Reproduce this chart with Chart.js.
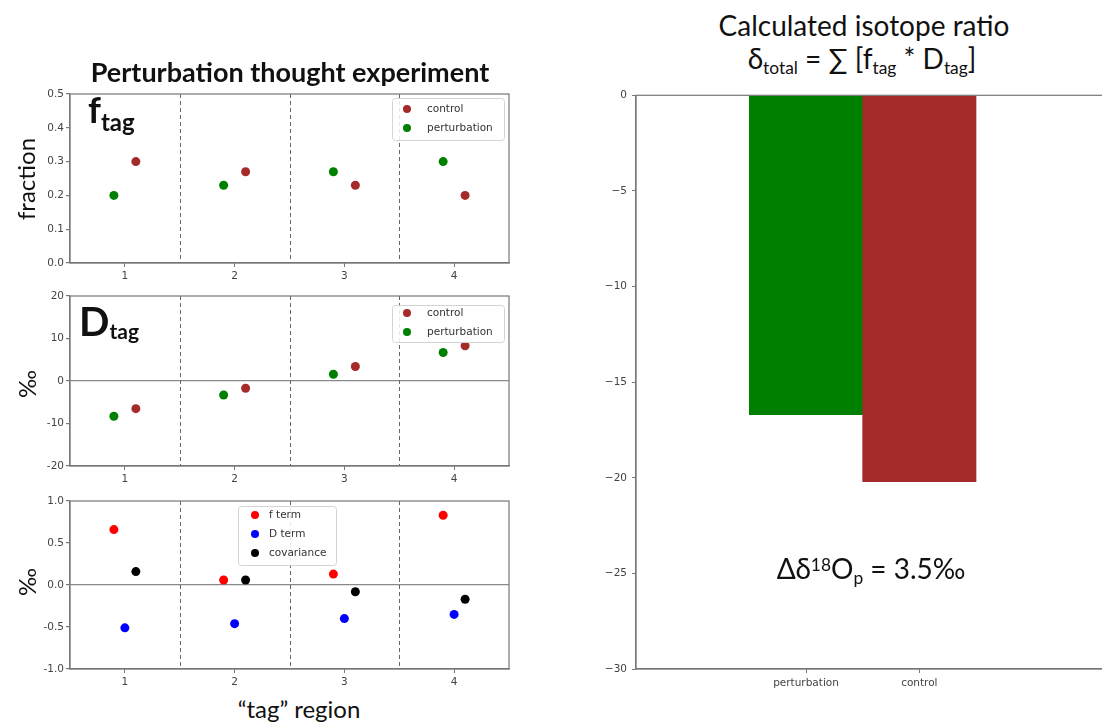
<!DOCTYPE html>
<html>
<head>
<meta charset="utf-8">
<script src="https://cdn.jsdelivr.net/npm/chart.js@4.4.1/dist/chart.umd.min.js"></script>
<style>
  html, body { margin: 0; padding: 0; background: #fff; }
  body { width: 1102px; height: 723px; position: relative; overflow: hidden; font-family: Lato, "Open Sans", sans-serif; color: #111; }
  canvas.plot { position: absolute; filter: blur(0.5px); }
  .lbl { position: absolute; white-space: nowrap; transform: translate(-50%, -50%); line-height: 1; }
  .rot { transform: translate(-50%, -50%) rotate(-90deg); }
  .tag { position: absolute; white-space: nowrap; line-height: 1; font-weight: 700; }
  .sub { font-size: 0.62em; position: relative; top: 0.3em; }
  .sup { font-size: 0.62em; position: relative; top: -0.45em; }
</style>
</head>
<body>

<canvas id="fPanel" class="plot" width="520" height="200" style="left:0; top:84px"></canvas>
<canvas id="dPanel" class="plot" width="520" height="200" style="left:0; top:286px"></canvas>
<canvas id="termPanel" class="plot" width="520" height="200" style="left:0; top:491px"></canvas>
<canvas id="totalPanel" class="plot" width="560" height="615" style="left:560px; top:84px"></canvas>

<div class="lbl" style="left:290px; top:71px; font-weight:700; font-size:27px">Perturbation thought experiment</div>
<div class="lbl rot" style="left:26px; top:179px; font-size:24px">fraction</div>
<div class="lbl rot" style="left:27px; top:384px; font-size:24px">‰</div>
<div class="lbl rot" style="left:27px; top:582px; font-size:24px">‰</div>
<div class="lbl" style="left:299px; top:709px; font-size:24px">“tag” region</div>
<div class="tag" style="left:88px; top:91px; font-size:36px">f<span style="font-size:24px; position:relative; top:8px">tag</span></div>
<div class="tag" style="left:79px; top:301px; font-size:40px">D<span style="font-size:21px; position:relative; top:3px">tag</span></div>

<div class="lbl" style="left:864px; top:25px; font-size:28px">Calculated isotope ratio</div>
<div class="lbl" style="left:862px; top:58px; font-size:28px">δ<span class="sub">total</span> = ∑ [f<span class="sub">tag</span> * D<span class="sub">tag</span>]</div>
<div class="lbl" style="left:871px; top:568px; font-size:28px">Δδ<span class="sup">18</span>O<span class="sub">p</span> = 3.5‰</div>

<script>
const regions = [1, 2, 3, 4];
const dividers = [1.5, 2.5, 3.5];

// f_tag: fraction of each tag region
const fCtrlX = [1.1, 2.1, 3.1, 4.1];
const fCtrl = [0.30, 0.27, 0.23, 0.20];
const fPertX = [0.9, 1.9, 2.9, 3.9];
const fPert = [0.20, 0.23, 0.27, 0.30];
const fTicks = [0, 0.1, 0.2, 0.3, 0.4, 0.5];

// D_tag: isotope value of each tag region
const dCtrlX = [1.1, 2.1, 3.1, 4.1];
const dCtrl = [-6.5, -1.7, 3.4, 8.3];
const dPertX = [0.9, 1.9, 2.9, 3.9];
const dPert = [-8.3, -3.3, 1.6, 6.7];
const dTicks = [-20, -10, 0, 10, 20];

// decomposition of the change
const fTermX = [0.9, 1.9, 2.9, 3.9];
const fTerm = [0.66, 0.06, 0.13, 0.83];
const dTermX = [1, 2, 3, 4];
const dTerm = [-0.51, -0.46, -0.40, -0.35];
const covX = [1.1, 2.1, 3.1, 4.1];
const cov = [0.16, 0.06, -0.08, -0.17];
const termTicks = [-1, -0.5, 0, 0.5, 1];

// total isotope ratio
const barLabels = ['perturbation', 'control'];
const barValues = [-16.7, -20.2];
const totalTicks = [-30, -25, -20, -15, -10, -5, 0];

const tickFont = { family: '"DejaVu Sans"', size: 10.5 };
const tickColor = '#444';
const axisColor = '#777';

const pts = (xs, ys) => xs.map((x, i) => ({ x, y: ys[i] }));

// box round the plot area
const framePlugin = {
  id: 'frame',
  afterDatasetsDraw(chart) {
    const { ctx, chartArea: a } = chart;
    ctx.save();
    ctx.strokeStyle = axisColor;
    ctx.lineWidth = 1.2;
    ctx.strokeRect(a.left, a.top, a.right - a.left, a.bottom - a.top);
    ctx.restore();
  }
};

// dashed lines between tag regions
const dividerPlugin = {
  id: 'dividers',
  beforeDatasetsDraw(chart) {
    const { ctx, chartArea: a, scales: { x } } = chart;
    ctx.save();
    ctx.strokeStyle = '#666';
    ctx.lineWidth = 1;
    ctx.setLineDash([4, 3]);
    dividers.forEach((v) => {
      const px = Math.round(x.getPixelForValue(v)) + 0.5;
      ctx.beginPath();
      ctx.moveTo(px, a.top);
      ctx.lineTo(px, a.bottom);
      ctx.stroke();
    });
    ctx.restore();
  }
};

// legend drawn inside the plot area, with a frame
const boxLegend = {
  id: 'boxLegend',
  afterDraw(chart, args, opts) {
    const { ctx, chartArea: a } = chart;
    const x0 = a.left + opts.x;
    const y0 = a.top + opts.y;
    ctx.save();
    ctx.fillStyle = 'rgba(255,255,255,0.85)';
    ctx.strokeStyle = '#d4d4d4';
    ctx.lineWidth = 1;
    ctx.beginPath();
    ctx.roundRect(x0 + 0.5, y0 + 0.5, opts.w, opts.h, 3);
    ctx.fill();
    ctx.stroke();
    ctx.font = '10.5px "DejaVu Sans"';
    ctx.textBaseline = 'middle';
    chart.data.datasets.forEach((ds, i) => {
      const cy = y0 + opts.rows[i];
      ctx.fillStyle = ds.backgroundColor;
      ctx.beginPath();
      ctx.arc(x0 + opts.mark, cy, 4, 0, Math.PI * 2);
      ctx.fill();
      ctx.fillStyle = '#333';
      ctx.fillText(ds.label, x0 + opts.text, cy);
    });
    ctx.restore();
  }
};

function scatterPanel(id, datasets, yTicks, fmt, zeroLine, legend, xAxisH) {
  new Chart(document.getElementById(id), {
    type: 'scatter',
    data: { datasets },
    options: {
      responsive: false,
      animation: false,
      layout: { padding: { top: 10, right: 11, left: 0, bottom: 0 } },
      elements: { point: { radius: 4.5, borderWidth: 0, hoverRadius: 4.5 } },
      plugins: {
        legend: { display: false },
        tooltip: { enabled: false },
        boxLegend: legend
      },
      scales: {
        x: {
          type: 'linear',
          min: 0.5,
          max: 4.5,
          afterBuildTicks: (s) => { s.ticks = regions.map((v) => ({ value: v })); },
          afterFit: (s) => { s.height = xAxisH; },
          grid: { drawOnChartArea: false, tickLength: 4, tickColor: axisColor },
          border: { color: axisColor, width: 1.2 },
          ticks: { font: tickFont, color: tickColor, padding: 3, maxRotation: 0 }
        },
        y: {
          type: 'linear',
          min: yTicks[0],
          max: yTicks[yTicks.length - 1],
          afterBuildTicks: (s) => { s.ticks = yTicks.map((v) => ({ value: v })); },
          afterFit: (s) => { s.width = 70; },
          grid: {
            color: (c) => (zeroLine && c.tick && c.tick.value === 0 ? '#8a8a8a' : 'rgba(0,0,0,0)'),
            lineWidth: 1.2,
            tickLength: 4,
            tickColor: axisColor
          },
          border: { color: axisColor, width: 1.2 },
          ticks: { font: tickFont, color: tickColor, padding: 2, callback: fmt }
        }
      }
    },
    plugins: [dividerPlugin, framePlugin, boxLegend]
  });
}

scatterPanel('fPanel', [
  { label: 'control', data: pts(fCtrlX, fCtrl), backgroundColor: '#a52a2a' },
  { label: 'perturbation', data: pts(fPertX, fPert), backgroundColor: '#008000' }
], fTicks, (v) => v.toFixed(1), false,
{ x: 322, y: 4, w: 112, h: 42, mark: 15, text: 35, rows: [11, 30] }, 21);

scatterPanel('dPanel', [
  { label: 'control', data: pts(dCtrlX, dCtrl), backgroundColor: '#a52a2a' },
  { label: 'perturbation', data: pts(dPertX, dPert), backgroundColor: '#008000' }
], dTicks, (v) => String(v), true,
{ x: 322, y: 9, w: 112, h: 37, mark: 15, text: 35, rows: [8, 27] }, 20);

scatterPanel('termPanel', [
  { label: 'f term', data: pts(fTermX, fTerm), backgroundColor: '#ff0000' },
  { label: 'D term', data: pts(dTermX, dTerm), backgroundColor: '#0000ff' },
  { label: 'covariance', data: pts(covX, cov), backgroundColor: '#000000' }
], termTicks, (v) => v.toFixed(1), true,
{ x: 168, y: 5, w: 98, h: 59, mark: 17, text: 31, rows: [9, 28, 47] }, 22);

// total: one bar per case, bars touching
new Chart(document.getElementById('totalPanel'), {
  type: 'bar',
  data: {
    datasets: [{
      data: pts(barLabels.map((_, i) => i), barValues),
      backgroundColor: ['#008000', '#a52a2a'],
      barPercentage: 1,
      categoryPercentage: 1
    }]
  },
  options: {
    responsive: false,
    animation: false,
    layout: { padding: { top: 10, right: 8, left: 0, bottom: 0 } },
    plugins: { legend: { display: false }, tooltip: { enabled: false } },
    scales: {
      x: {
        type: 'linear',
        offset: false,
        min: -1.5,
        max: 2.7,
        afterBuildTicks: (s) => { s.ticks = barLabels.map((_, i) => ({ value: i })); },
        afterFit: (s) => { s.height = 30; },
        grid: { offset: false, drawOnChartArea: false, tickLength: 4, tickColor: axisColor },
        border: { color: axisColor, width: 1.2 },
        ticks: { font: tickFont, color: tickColor, padding: 4, maxRotation: 0, callback: (v) => barLabels[v] }
      },
      y: {
        type: 'linear',
        min: -30,
        max: 0,
        afterBuildTicks: (s) => { s.ticks = totalTicks.map((v) => ({ value: v })); },
        afterFit: (s) => { s.width = 76; },
        grid: { drawOnChartArea: false, tickLength: 4, tickColor: axisColor },
        border: { color: axisColor, width: 1.2 },
        ticks: { font: tickFont, color: tickColor, padding: 5, callback: (v) => (v === 0 ? '0' : '\u2212' + Math.abs(v)) }
      }
    }
  },
  plugins: [framePlugin]
});
</script>
</body>
</html>
